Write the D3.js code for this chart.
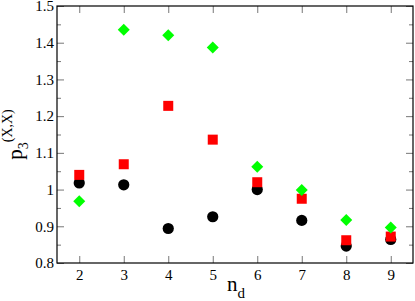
<!DOCTYPE html>
<html>
<head>
  <meta charset="UTF-8" />
  <script src="https://d3js.org/d3.v7.min.js"></script>
  <style>
    body { margin: 0; background: #fff; }
    svg { display: block; }
    .tick line { stroke: #777; }
  </style>
</head>
<body>
  <svg></svg>
  <script>
    const nd = [2, 3, 4, 5, 6, 7, 8, 9];
    const black = [1.018, 1.013, 0.894, 0.926, 1.000, 0.916, 0.846, 0.864];
    const red = [1.040, 1.069, 1.228, 1.136, 1.020, 0.975, 0.862, 0.872];
    const green = [0.968, 1.435, 1.420, 1.387, 1.062, 0.999, 0.917, 0.897];
    const xTicks = [2, 3, 4, 5, 6, 7, 8, 9];
    const yTicks = [0.8, 0.9, 1, 1.1, 1.2, 1.3, 1.4, 1.5];

    const serif = "Liberation Serif, DejaVu Serif, serif";
    const width = 415, height = 301;
    const margin = { left: 57, top: 6, right: 2, bottom: 38 };

    const svg = d3.select("svg").attr("width", width).attr("height", height)
      .attr("font-family", serif);

    const x = d3.scaleLinear().domain([1.5, 9.5]).range([margin.left, width - margin.right]);
    const y = d3.scaleLinear().domain([0.8, 1.5]).range([height - margin.bottom, margin.top]);

    const fmt = d => (d === 1 ? "1" : d3.format(".1f")(d));
    const minorY = d3.range(0.85, 1.5, 0.1);

    function style(g) {
      g.select(".domain").remove();
      g.attr("font-family", serif).attr("font-size", 15);
      g.selectAll("text").attr("fill", "#000");
    }

    // bottom axis
    svg.append("g")
      .attr("transform", `translate(0,${y(0.8)})`)
      .call(d3.axisBottom(x).tickValues(xTicks).tickSize(-7).tickPadding(6).tickFormat(d3.format("d")))
      .call(style);
    // top axis (ticks only)
    svg.append("g")
      .attr("transform", `translate(0,${y(1.5)})`)
      .call(d3.axisTop(x).tickValues(xTicks).tickSize(-7).tickFormat(""))
      .call(style);
    // left axis
    svg.append("g")
      .attr("transform", `translate(${x(1.5)},0)`)
      .call(d3.axisLeft(y).tickValues(yTicks).tickSize(-7).tickPadding(3).tickFormat(fmt))
      .call(style);
    svg.append("g")
      .attr("transform", `translate(${x(1.5)},0)`)
      .call(d3.axisLeft(y).tickValues(minorY).tickSize(-4).tickFormat(""))
      .call(style);
    // right axis
    svg.append("g")
      .attr("transform", `translate(${x(9.5)},0)`)
      .call(d3.axisRight(y).tickValues(yTicks).tickSize(-7).tickFormat(""))
      .call(style);
    svg.append("g")
      .attr("transform", `translate(${x(9.5)},0)`)
      .call(d3.axisRight(y).tickValues(minorY).tickSize(-4).tickFormat(""))
      .call(style);

    // frame
    svg.append("rect")
      .attr("x", x(1.5)).attr("y", y(1.5))
      .attr("width", x(9.5) - x(1.5)).attr("height", y(0.8) - y(1.5))
      .attr("fill", "none").attr("stroke", "#000").attr("stroke-width", 1.2);

    const plot = svg.append("g");

    plot.selectAll(".c").data(nd).enter().append("circle")
      .attr("cx", d => x(d)).attr("cy", (d, i) => y(black[i]))
      .attr("r", 5.6).attr("fill", "#000");

    const sq = 10;
    plot.selectAll(".s").data(nd).enter().append("rect")
      .attr("x", d => x(d) - sq / 2).attr("y", (d, i) => y(red[i]) - sq / 2)
      .attr("width", sq).attr("height", sq).attr("fill", "#ff0000");

    const dm = 6;
    plot.selectAll(".d").data(nd).enter().append("path")
      .attr("transform", (d, i) => `translate(${x(d)},${y(green[i])})`)
      .attr("d", `M0,${-dm}L${dm},0L0,${dm}L${-dm},0Z`)
      .attr("fill", "#00ff00");

    // axis titles
    const xt = svg.append("text")
      .attr("x", 227).attr("y", 291)
      .attr("font-size", 21);
    xt.append("tspan").text("n");
    xt.append("tspan").attr("font-size", 15).attr("dy", 7).text("d");

    const yt = svg.append("text")
      .attr("transform", `translate(22,${(y(0.8) + y(1.5)) / 2}) rotate(-90)`)
      .attr("text-anchor", "middle")
      .attr("font-size", 21);
    yt.append("tspan").text("p");
    yt.append("tspan").attr("font-size", 14).attr("dy", 6).text("3");
    yt.append("tspan").attr("font-size", 14).attr("dy", -16).text("(X,X)");
  </script>
</body>
</html>
